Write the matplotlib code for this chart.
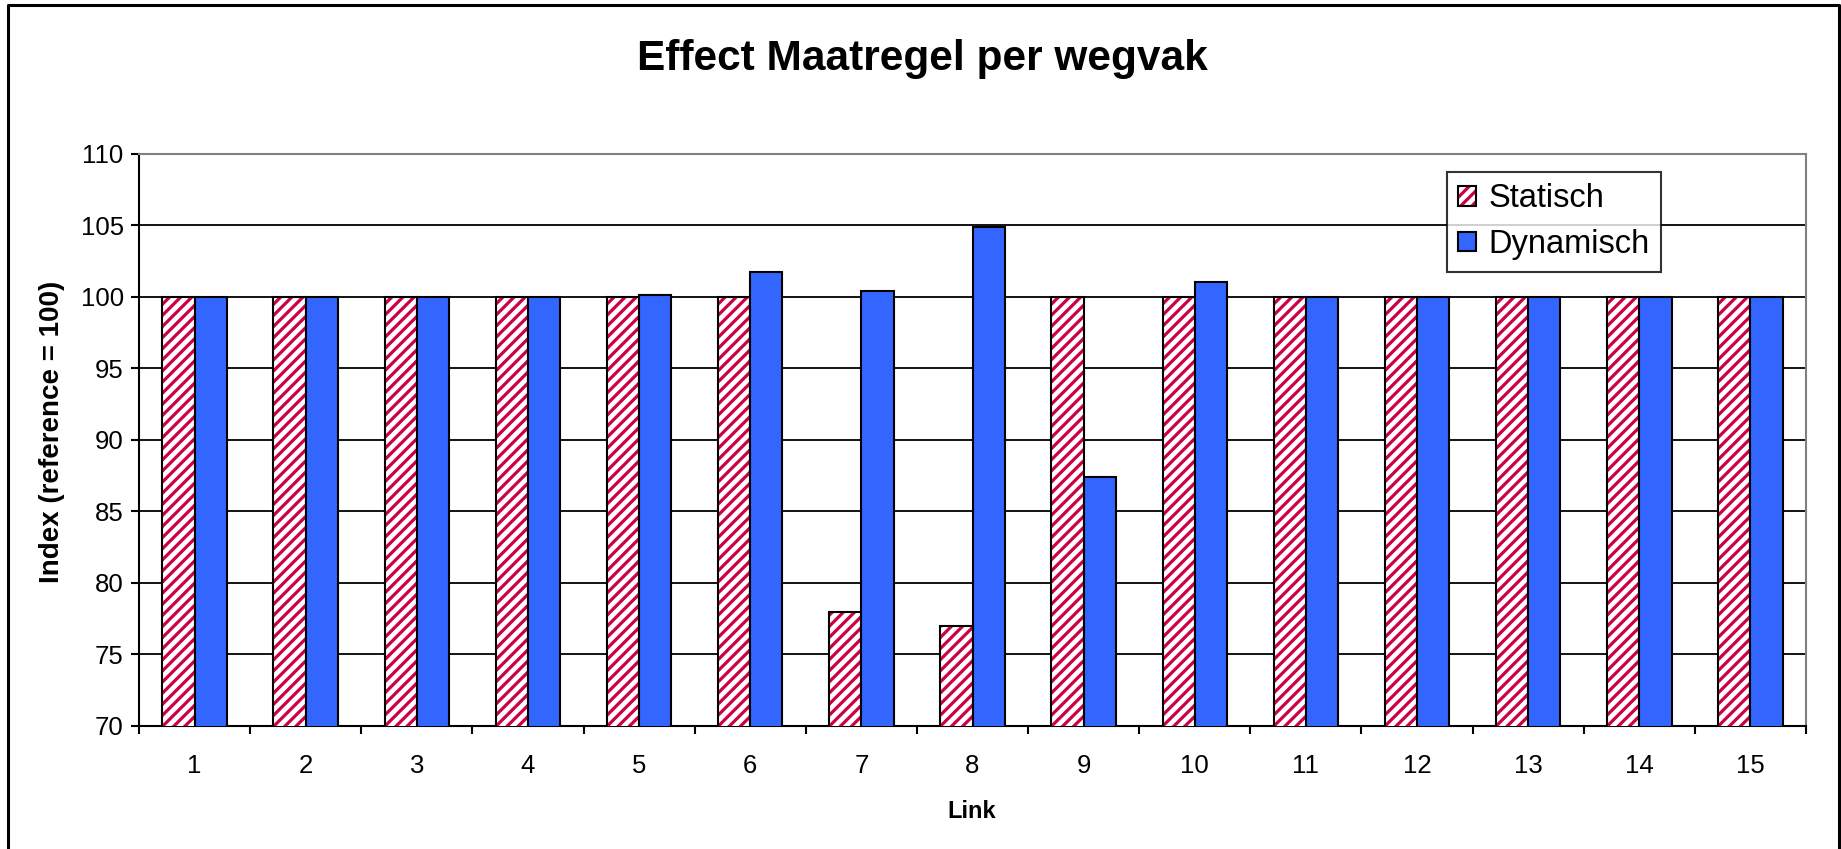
import matplotlib
matplotlib.use("Agg")
import matplotlib.pyplot as plt
import numpy as np
from matplotlib.lines import Line2D
from matplotlib.patches import Patch
from matplotlib.legend_handler import HandlerTuple

links = [str(i) for i in range(1, 16)]
statisch = [100, 100, 100, 100, 100, 100, 78.0, 77.0, 100, 100, 100, 100, 100, 100, 100]
dynamisch = [100, 100, 100, 100, 100.15, 101.7, 100.4, 104.85, 87.4, 101.0,
             100, 100, 100, 100, 100]
yticks = [70, 75, 80, 85, 90, 95, 100, 105, 110]

RED = '#CC0044'
BLUE = '#3366FF'

plt.rcParams['font.family'] = ['Liberation Sans', 'DejaVu Sans']
plt.rcParams['hatch.linewidth'] = 2.3

fig = plt.figure(figsize=(18.41, 8.49), dpi=100)
ax = fig.add_axes([139 / 1841, 1 - 726 / 849, 1667 / 1841, (726 - 153.6) / 849])

x = np.arange(len(links))
w = 0.29

# hatched bars: stripes first, black outline on top
ax.bar(x - w / 2, statisch, w, bottom=0, color='white', edgecolor=RED,
       hatch='///', linewidth=0, zorder=3)
ax.bar(x - w / 2, statisch, w, bottom=0, fill=False, edgecolor='black',
       linewidth=1.5, zorder=4)
ax.bar(x + w / 2, dynamisch, w, bottom=0, color=BLUE, edgecolor='black',
       linewidth=1.5, zorder=4)

ax.set_ylim(70, 110)
ax.set_xlim(-0.5, len(links) - 0.5)
ax.set_yticks(yticks)
ax.yaxis.grid(True, color='black', linewidth=1.3, zorder=1)
ax.set_axisbelow(True)

ax.set_xticks(x)
ax.set_xticklabels(links)
ax.set_xticks(np.arange(-0.5, len(links), 1), minor=True)
ax.tick_params(axis='x', which='major', length=0, pad=20, labelsize=18.5)
ax.tick_params(axis='x', which='minor', length=6, width=1.5, direction='out')
ax.tick_params(axis='y', length=6, width=1.5, direction='out', pad=5, labelsize=18.5)

for s in ['left', 'bottom']:
    ax.spines[s].set_color('black')
    ax.spines[s].set_linewidth(1.5)
for s in ['top', 'right']:
    ax.spines[s].set_color('#808080')
    ax.spines[s].set_linewidth(1.5)

fig.text(922 / 1841, 1 - 59 / 849, 'Effect Maatregel per wegvak', ha='center',
         va='center', fontsize=30.5, fontweight='bold')
fig.text(52 / 1841, 1 - 432 / 849, 'Index (reference = 100)', rotation=90,
         ha='center', va='center', fontsize=20, fontweight='bold')
fig.text(972 / 1841, 1 - 812 / 849, 'Link', ha='center', va='center',
         fontsize=17, fontweight='bold')

h_stat = (Patch(facecolor='white', edgecolor=RED, hatch='///', linewidth=0),
          Patch(fill=False, edgecolor='black', linewidth=1.5))
h_dyn = Patch(facecolor=BLUE, edgecolor='black', linewidth=1.5)
leg = ax.legend([h_stat, h_dyn], ['Statisch', 'Dynamisch'],
                handler_map={tuple: HandlerTuple(ndivide=1, pad=0)},
                loc='upper left', bbox_to_anchor=((1447 - 139) / 1667, (726 - 172) / 572.4),
                borderaxespad=0, fontsize=23.5, frameon=True, fancybox=False,
                handlelength=0.55, handleheight=0.55, handletextpad=0.36,
                borderpad=0.35, labelspacing=0.45)
leg.get_frame().set_edgecolor('black')
leg.get_frame().set_linewidth(1.5)
leg.set_zorder(10)

# outer chart border (left, top, right)
fig.add_artist(Line2D([8 / 1841, 8 / 1841, 1838.5 / 1841, 1838.5 / 1841],
                      [0, 1 - 4.5 / 849, 1 - 4.5 / 849, 0],
                      color='black', linewidth=2.2, transform=fig.transFigure))

fig.savefig('out.png', dpi=100)
